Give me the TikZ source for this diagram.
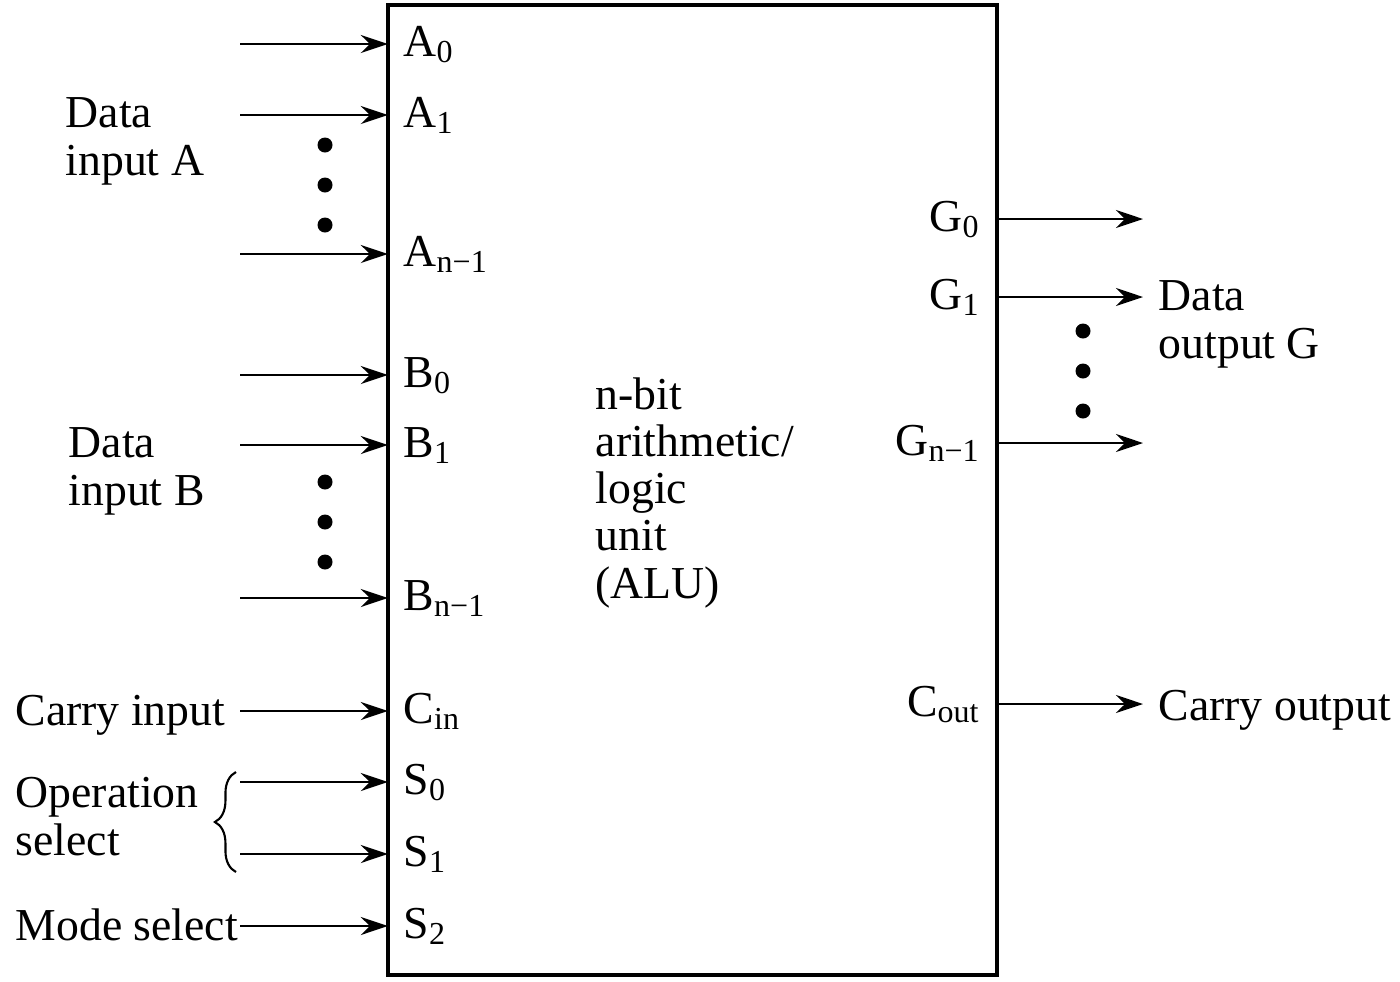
\documentclass[tikz,border=0pt]{standalone}
\usepackage{fontspec}
\setmainfont{Liberation Serif}
\usetikzlibrary{positioning,arrows.meta,decorations.pathreplacing}
\tikzset{
  alubox/.style={draw,line width=1.15pt,outer sep=0pt,minimum width=6.09cm,minimum height=9.70cm},
  sig/.style={-{Stealth[length=2.7mm,width=1.8mm,inset=0.9mm]},line width=0.75pt},
  txt/.style={inner sep=0pt,align=left,font=\fontsize{13}{13.4}\selectfont},
  dot/.style={circle,fill,inner sep=0pt,minimum size=0.15cm},
  brc/.style={decorate,decoration={brace,amplitude=6pt},line width=0.6pt},
}

\begin{document}
\begin{tikzpicture}[x=0.01cm,y=-0.01cm]
  \useasboundingbox (0,0) rectangle (1400,981);
  \node[alubox] (alu) at (692.5,490) {};
  \node[txt,anchor=base west] (name) at (595,598) {n-bit\\arithmetic/\\logic\\unit\\(ALU)};
  % inputs
  \foreach \n/\y/\t in {a0/44/A\textsubscript{0}, a1/115/A\textsubscript{1}, an/254/A\textsubscript{n−1},
      b0/375/B\textsubscript{0}, b1/445/B\textsubscript{1}, bn/598/B\textsubscript{n−1},
      cin/711/C\textsubscript{in}, s0/782/S\textsubscript{0}, s1/854/S\textsubscript{1}, s2/926/S\textsubscript{2}} {
    \coordinate (\n s) at (240,\y);
    \coordinate (\n) at (alu.west |- 0,\y);
    \node[txt,anchor=base west] (\n l) at (403,\y+12) {\t};
    \draw[sig] (\n s) -- (\n);
  }
  % outputs
  \foreach \n/\y/\t in {g0/219/G\textsubscript{0}, g1/297/G\textsubscript{1}, gn/443/G\textsubscript{n−1},
      cout/704/C\textsubscript{out}} {
    \coordinate (\n) at (alu.east |- 0,\y);
    \coordinate (\n e) at (1143,\y);
    \node[txt,anchor=base east] (\n l) at (981,\y+12) {\t};
    \draw[sig] (\n) -- (\n e);
  }
  \node[dot] (da1) at (325,145) {};
  \node[dot] (da2) at (325,185) {};
  \node[dot] (da3) at (325,225) {};
  \node[dot] (db1) at (325,482) {};
  \node[dot] (db2) at (325,522) {};
  \node[dot] (db3) at (325,562) {};
  \node[dot] (dg1) at (1083,331) {};
  \node[dot] (dg2) at (1083,371) {};
  \node[dot] (dg3) at (1083,411) {};
  % side labels
  \node[txt,anchor=base west] (ina) at (65,175) {Data\\input A};
  \node[txt,anchor=base west] (inb) at (68,505) {Data\\input B};
  \node[txt,anchor=base west] (cinl) at (15,725) {Carry input};
  \node[txt,anchor=base west] (opsel) at (15,855) {Operation\\select};
  \node[txt,anchor=base west] (mode) at (15,940) {Mode select};
  \node[txt,anchor=base west] (outg) at (1158,358) {Data\\output G};
  \node[txt,anchor=base west] (coutl) at (1158,720) {Carry output};
  \coordinate (brb) at (236,872);
  \coordinate (brt) at (236,772);
  \draw[brc] (brb) -- (brt);
\end{tikzpicture}
\end{document}
